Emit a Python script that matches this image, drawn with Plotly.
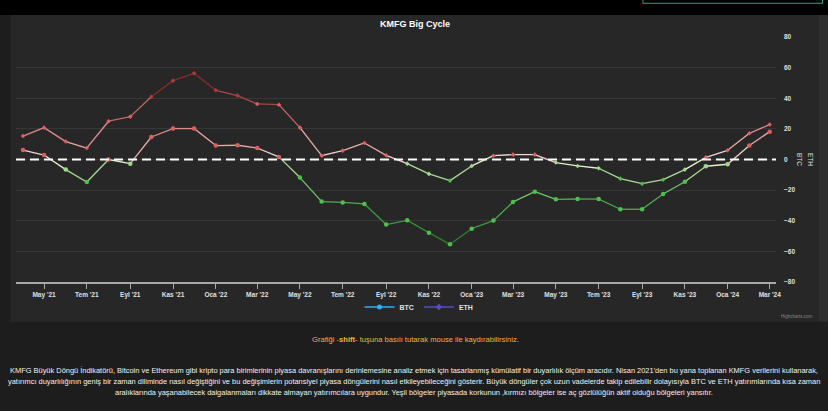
import pandas as pd
import plotly.graph_objects as go

# ---------------- data ----------------
months = pd.date_range("2021-04-01", periods=36, freq="MS")

btc = [6.2, 2.9, -6.6, -14.7, 0.0, -2.7, 14.7, 20.2, 20.2, 9.1, 9.3, 7.5,
       1.7, -11.8, -27.5, -28.0, -29.0, -42.5, -39.7, -47.8, -55.4, -45.2, -39.9, -27.7,
       -21.0, -26.0, -25.8, -25.8, -32.5, -32.5, -22.5, -14.5, -4.4, -3.1, 9.1, 18.2]

eth = [15.3, 20.8, 11.7, 7.5, 25.0, 28.0, 41.0, 51.5, 56.3, 45.2, 41.7, 36.3,
       35.8, 20.8, 2.5, 5.8, 10.8, 2.7, -2.7, -9.4, -13.8, -4.2, 2.5, 3.2,
       3.2, -2.0, -4.2, -5.7, -12.5, -15.8, -13.2, -6.6, 1.4, 6.0, 17.1, 22.8]

tick_labels = ["May '21", "Tem '21", "Eyl '21", "Kas '21", "Oca '22", "Mar '22",
               "May '22", "Tem '22", "Eyl '22", "Kas '22", "Oca '23", "Mar '23",
               "May '23", "Tem '23", "Eyl '23", "Kas '23", "Oca '24", "Mar '24"]
tick_dates = list(months[1::2])

y_ticks = [-80, -60, -40, -20, 0, 20, 40, 60, 80]

title_text = "KMFG Big Cycle"
hint_text = "Grafiği -<b>shift</b>- tuşuna basılı tutarak mouse ile kaydırabilirsiniz."
desc_lines = [
    "KMFG Büyük Döngü İndikatörü, Bitcoin ve Ethereum gibi kripto para birimlerinin piyasa davranışlarını derinlemesine analiz etmek için tasarlanmış kümülatif bir duyarlılık ölçüm aracıdır. Nisan 2021'den bu yana toplanan KMFG verilerini kullanarak,",
    "yatırımcı duyarlılığının geniş bir zaman diliminde nasıl değiştiğini ve bu değişimlerin potansiyel piyasa döngülerini nasıl etkileyebileceğini gösterir. Büyük döngüler çok uzun vadelerde takip edilebilir dolayısıyla BTC ve ETH yatırımlarında kısa zaman",
    "aralıklarında yaşanabilecek dalgalanmaları dikkate almayan yatırımcılara uygundur. Yeşil bölgeler piyasada korkunun ,kırmızı bölgeler ise aç gözlülüğün aktif olduğu bölgeleri yansıtır.",
]

# ---------------- styling helpers ----------------
W_FIG, H_FIG = 828, 411
L, R, T, B = 16, 776, 37, 282
PW, PH = R - L, B - T


def px2x(px):
    return (px - L) / PW


def py2y(py):
    return (B - py) / PH


def zone_color(v):
    if v < -45: return "#2f7f2f"
    if v < -35: return "#3c9a3c"
    if v < -25: return "#4daf4d"
    if v < -15: return "#70c56a"
    if v < -5:  return "#a9dc95"
    if v < 0:   return "#e4f1cc"
    if v < 5:   return "#f3d3d0"
    if v < 15:  return "#eaa9a9"
    if v < 25:  return "#dc8a8a"
    if v < 35:  return "#c86666"
    if v < 45:  return "#a94646"
    return "#8a2a2a"


def marker_color(v):
    if v >= 40: return "#b03c3c"
    if v >= 0:  return "#dc6060"
    if v > -10: return "#9fd98c"
    return "#4fbf4f"


fig = go.Figure()


def add_series(values, symbol, size, width):
    for i in range(len(values) - 1):
        mid = (values[i] + values[i + 1]) / 2
        fig.add_trace(go.Scatter(
            x=[months[i], months[i + 1]], y=[values[i], values[i + 1]],
            mode="lines", line=dict(color=zone_color(mid), width=width),
            showlegend=False, hoverinfo="skip"))
    fig.add_trace(go.Scatter(
        x=months, y=values, mode="markers",
        marker=dict(symbol=symbol, size=size,
                    color=[marker_color(v) for v in values], line=dict(width=0)),
        showlegend=False))


add_series(eth, "diamond", 3.5, 1.3)
add_series(btc, "circle", 4.5, 1.3)

# legend entries
fig.add_trace(go.Scatter(x=[None], y=[None], mode="lines+markers", name="BTC",
                         line=dict(color="#2caffe", width=1.5),
                         marker=dict(symbol="circle", size=5, color="#2caffe")))
fig.add_trace(go.Scatter(x=[None], y=[None], mode="lines+markers", name="ETH",
                         line=dict(color="#544fc5", width=1.5),
                         marker=dict(symbol="diamond", size=5, color="#544fc5")))

shapes = [
    # top black band
    dict(type="rect", xref="paper", yref="paper", x0=px2x(-5), x1=px2x(835),
         y0=py2y(15), y1=py2y(-5), fillcolor="#000000", line=dict(width=0), layer="below"),
    # chart container
    dict(type="rect", xref="paper", yref="paper", x0=px2x(10.5), x1=px2x(819),
         y0=py2y(321.7), y1=py2y(15), fillcolor="#272727", line=dict(width=0), layer="below"),
    # right strip
    dict(type="rect", xref="paper", yref="paper", x0=px2x(819), x1=px2x(835),
         y0=py2y(321.7), y1=py2y(15), fillcolor="#2d2d2d", line=dict(width=0), layer="below"),
    # teal button outline at top right
    dict(type="rect", xref="paper", yref="paper", x0=px2x(643), x1=px2x(822.5),
         y0=py2y(3.3), y1=py2y(-6), fillcolor="rgba(0,0,0,0)",
         line=dict(color="#2f9e86", width=1), layer="above"),
    # zero dashed line
    dict(type="line", xref="paper", yref="y", x0=0, x1=1, y0=0, y1=0,
         line=dict(color="#ffffff", width=2, dash="9px,5px"), layer="above"),
]

annotations = [
    dict(text="<b>" + title_text + "</b>", x=px2x(415), y=py2y(24), xref="paper", yref="paper",
         showarrow=False, font=dict(size=9, color="#ffffff"), xanchor="center", yanchor="middle"),
    dict(text="BTC", x=px2x(800), y=py2y(159), xref="paper", yref="paper", textangle=90,
         showarrow=False, font=dict(size=6.5, color="#dddddd"), xanchor="center", yanchor="middle"),
    dict(text="ETH", x=px2x(811), y=py2y(159), xref="paper", yref="paper", textangle=90,
         showarrow=False, font=dict(size=6.5, color="#dddddd"), xanchor="center", yanchor="middle"),
    dict(text="Highcharts.com", x=px2x(815), y=py2y(316.5), xref="paper", yref="paper",
         showarrow=False, font=dict(size=4.5, color="#8a8a8a"), xanchor="right", yanchor="middle"),
    dict(text=hint_text, x=px2x(415), y=py2y(339), xref="paper", yref="paper",
         showarrow=False, font=dict(size=7.6, color="#eeb43a"), xanchor="center", yanchor="middle"),
]
for k, line in enumerate(desc_lines):
    annotations.append(dict(text=line, x=px2x(414), y=py2y(370.7 + 11 * k), xref="paper", yref="paper",
                            showarrow=False, font=dict(size=7.45, color="#f2f2f2"),
                            xanchor="center", yanchor="middle"))

fig.update_layout(
    width=W_FIG, height=H_FIG,
    margin=dict(l=L, r=W_FIG - R, t=T, b=H_FIG - B, pad=0),
    paper_bgcolor="#1d1d1d", plot_bgcolor="rgba(0,0,0,0)",
    font=dict(family="Liberation Sans, Arial, sans-serif", color="#e0e0e0"),
    showlegend=True,
    legend=dict(orientation="h", x=px2x(419), xanchor="center", y=py2y(307), yanchor="middle",
                bgcolor="rgba(0,0,0,0)", font=dict(size=7, color="#e0e0e0", weight="bold"),
                itemwidth=30),
    shapes=shapes, annotations=annotations,
    xaxis=dict(type="date", range=["2021-03-22", "2024-03-10"],
               tickvals=tick_dates, ticktext=tick_labels,
               ticks="outside", ticklen=5, tickcolor="#a8a8a8", tickwidth=1,
               showline=True, linecolor="#a8a8a8", linewidth=2,
               showgrid=False, zeroline=False,
               tickfont=dict(size=6.5, color="#e0e0e0", weight="bold")),
    yaxis=dict(range=[-80, 80], tickvals=y_ticks, side="right",
               showgrid=True, gridcolor="#373737", gridwidth=1,
               zeroline=False, showline=False, ticks="",
               ticklabelstandoff=7,
               tickfont=dict(size=6.5, color="#e0e0e0", weight="bold")),
)

fig.write_html("out.html")
